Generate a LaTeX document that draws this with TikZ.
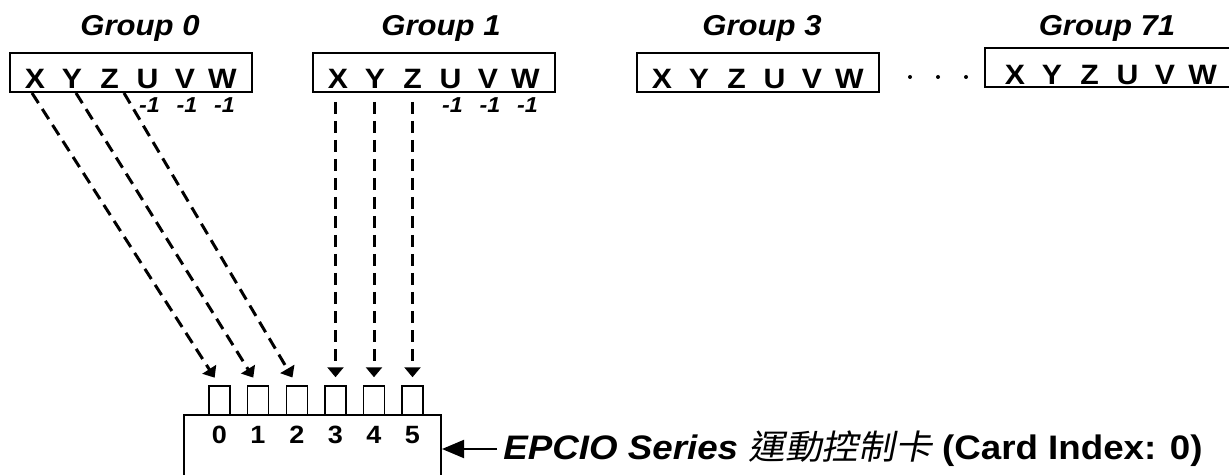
\documentclass[tikz,border=0pt]{standalone}
\usepackage{fontspec}
\setmainfont{Liberation Sans}[FakeStretch=1.08]
\newfontfamily\cjk{Noto Sans CJK TC}[FakeStretch=1.08, FakeSlant=0.2]
\usetikzlibrary{arrows.meta}

\begin{document}
\begin{tikzpicture}[x = 0.5pt, y = -0.5pt,
		groupbox/.style = {draw, line width = 1pt, minimum width = 121pt, minimum height = 19.5pt, inner sep = 0pt},
		grouplabel/.style = {anchor = base, inner sep = 0pt, font = \fontsize{14.4}{16}\selectfont\bfseries\itshape},
		axis/.style = {anchor = base, inner sep = 0pt, font = \fontsize{14}{16}\selectfont\bfseries},
		unused/.style = {anchor = base, inner sep = 0pt, font = \fontsize{10.8}{12}\selectfont\bfseries\itshape},
		port/.style = {draw, line width = 0.75pt, minimum width = 10.5pt, minimum height = 14.5pt, inner sep = 0pt},
		digit/.style = {anchor = base, inner sep = 0pt, font = \fontsize{12.5}{14}\selectfont\bfseries},
		link/.style = {line width = 1.5pt, dash pattern = on 6pt off 3.5pt, -{Triangle[length = 5pt, width = 8pt]}},
		pointer/.style = {line width = 1pt, -{Triangle[length = 11pt, width = 9pt]}}]
	\useasboundingbox (0, 0) rectangle (1229, 475);

	% axis groups
	\node [groupbox] (g0) at (131, 72.5) {};
	\node [groupbox] (g1) at (434, 72.5) {};
	\node [groupbox] (g3) at (757.5, 73) {};
	\node [groupbox, minimum width = 123pt] (g71) at (1108, 68) {};
	\node [grouplabel] (l0) at (140, 36) {Group 0};
	\node [grouplabel] (l1) at (441, 36) {Group 1};
	\node [grouplabel] (l3) at (762, 36) {Group 3};
	\node [grouplabel] (l71) at (1107, 36) {Group 71};
	\foreach \a/\dx in {X/25, Y/62, Z/99.5, U/137.5, V/175, W/212.5} {
		\node [axis] (g0-\a) at ({10 + \dx}, 89) {\a};
		\node [axis] (g1-\a) at ({313 + \dx}, 89) {\a};
		\node [axis] (g3-\a) at ({637 + \dx}, 89) {\a};
		\node [axis] (g71-\a) at ({990 + \dx}, 85) {\a};
	}
	\foreach \a in {U, V, W} {
		\node [unused] (n0-\a) at ([xshift = 1pt, yshift = -12pt] g0-\a.base) {-1};
		\node [unused] (n1-\a) at ([xshift = 1pt, yshift = -12pt] g1-\a.base) {-1};
	}
	\foreach \x in {910, 938, 966}
		\fill (\x, 77) circle (1pt);

	% card
	\node [draw, line width = 1pt, minimum width = 128.5pt, minimum height = 42.5pt, inner sep = 0pt] (card) at (312.5, 457.5) {};
	\foreach \i/\px in {0/219.5, 1/258, 2/297, 3/335.5, 4/374, 5/412.5} {
		\node [port] (p\i) at (\px, 400.5) {};
		\node [digit] (d\i) at (\px, 443) {\i};
	}
	\node [anchor = west, inner sep = 3pt, font = \fontsize{17}{19}\selectfont\bfseries] (cardlabel) at (497, 449)
		{\itshape EPCIO Series {\cjk\mdseries 運動控制卡} \upshape (Card Index: 0)};
	\draw [pointer] (cardlabel.west) -- (cardlabel.west -| card.east);

	% mapping
	\coordinate (s0) at (32, 93);
	\coordinate (s1) at (76, 93);
	\coordinate (s2) at (124, 93);
	\draw [link, shorten > = 4.5pt] (s0) -- (p0.north);
	\draw [link, shorten > = 4.5pt] (s1) -- (p1.north);
	\draw [link, shorten > = 4.5pt] (s2) -- (p2.north);
	\draw [link, shorten < = 4.5pt, shorten > = 4pt] (p3.north |- g1.south) -- (p3.north);
	\draw [link, shorten < = 4.5pt, shorten > = 4pt] (p4.north |- g1.south) -- (p4.north);
	\draw [link, shorten < = 4.5pt, shorten > = 4pt] (p5.north |- g1.south) -- (p5.north);
\end{tikzpicture}
\end{document}
